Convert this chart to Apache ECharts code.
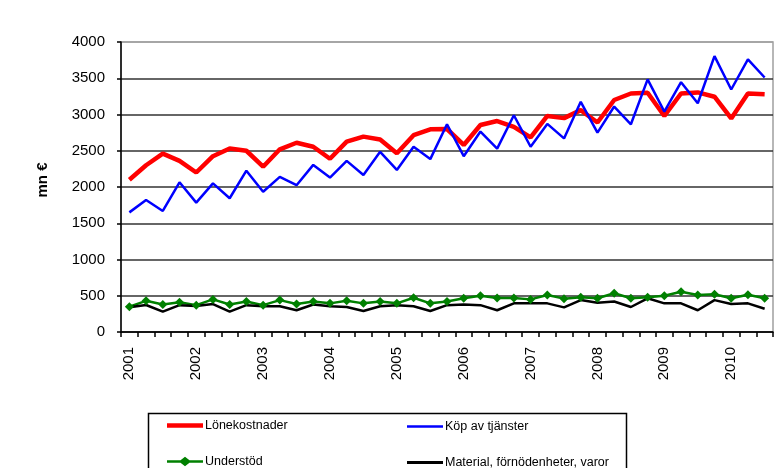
<!DOCTYPE html>
<html><head><meta charset="utf-8">
<script src="https://cdn.jsdelivr.net/npm/echarts@6/dist/echarts.min.js"></script>
<style>html,body{margin:0;padding:0;background:#fff}#c{width:783px;height:468px}</style>
</head><body><div id="c"></div>
<script>
const years = ['2001','2002','2003','2004','2005','2006','2007','2008','2009','2010'];
const categories = [];
for (const y of years) for (let q = 1; q <= 4; q++) categories.push(q === 1 ? y : y + ' Q' + q);
categories.length = 39;
const yTicks = [0, 500, 1000, 1500, 2000, 2500, 3000, 3500, 4000];
const seriesNames = ['Lönekostnader', 'Köp av tjänster', 'Understöd', 'Material, förnödenheter, varor'];
const lonekostnader = [2100,2300,2460,2360,2200,2425,2530,2500,2280,2520,2610,2555,2390,2625,2695,2655,2465,2715,2795,2800,2580,2855,2910,2830,2685,2980,2950,3060,2890,3200,3290,3300,2980,3290,3305,3245,2945,3290,3280];
const kopAvTjanster = [1650,1820,1670,2065,1785,2050,1845,2225,1935,2140,2025,2305,2130,2360,2165,2485,2235,2555,2385,2865,2425,2765,2530,2990,2555,2870,2670,3175,2750,3110,2865,3485,3040,3445,3155,3805,3345,3760,3510];
const understod = [350,430,380,410,370,450,380,420,370,440,385,420,395,430,395,420,395,473,395,420,465,500,470,470,450,510,460,480,465,535,465,480,500,555,510,520,465,515,465];
const material = [340,372,280,370,360,385,280,370,355,355,300,380,355,345,290,355,370,355,290,370,380,370,300,395,395,395,340,440,402,420,345,465,395,395,300,440,385,395,320];

const font = 'Liberation Sans, Arial, sans-serif';
const chart = echarts.init(document.getElementById('c'));
const gridColors = yTicks.map((v, i) => i === yTicks.length - 1 ? '#a0a0a0' : '#333');
function legendAt(name, left, top, icon, h) {
  return {
    data: [{ name: name, icon: icon }], left: left, top: top, orient: 'horizontal',
    itemWidth: 36, itemHeight: h, itemGap: 0, padding: 0,
    textStyle: { fontFamily: font, fontSize: 12.5, color: '#000', padding: [0, 0, 0, -3] },
    selectedMode: false
  };
}
const diamondIcon = 'path://M0,3.6 L13.5,3.6 L18,0 L22.5,3.6 L36,3.6 L36,5.9 L22.5,5.9 L18,9.5 L13.5,5.9 L0,5.9 Z';
chart.setOption({
  animation: false,
  backgroundColor: '#fff',
  grid: { left: 121, right: 10, top: 42, bottom: 136, show: true, borderColor: '#a0a0a0', borderWidth: 1.5, backgroundColor: 'transparent' },
  xAxis: {
    type: 'category', data: categories, boundaryGap: true,
    axisLine: { lineStyle: { color: '#000', width: 1.5 } },
    axisTick: { show: true, interval: 0, length: 5, lineStyle: { color: '#000', width: 1.5 } },
    axisLabel: { interval: 3, rotate: 90, fontFamily: font, fontSize: 15, color: '#000', margin: 15,
      formatter: v => v.slice(0, 4) },
    splitLine: { show: false }
  },
  yAxis: {
    type: 'value', min: 0, max: 4000, interval: 500,
    name: 'mn €', nameLocation: 'middle', nameGap: 71,
    nameTextStyle: { fontFamily: font, fontSize: 15, fontWeight: 'bold', color: '#000', padding: [0, 0, 0, 14] },
    axisLine: { show: true, lineStyle: { color: '#000', width: 1.5 } },
    axisTick: { show: true, length: 4, lineStyle: { color: '#000', width: 1.5 } },
    axisLabel: { fontFamily: font, fontSize: 15, color: '#000', margin: 16, formatter: v => String(v) },
    splitLine: { show: true, lineStyle: { color: gridColors, width: 1.5 } }
  },
  legend: [
    legendAt(seriesNames[0], 167, 419, 'rect', 4.5),
    legendAt(seriesNames[1], 407, 420, 'rect', 2.5),
    legendAt(seriesNames[2], 167, 455, diamondIcon, 9.5),
    legendAt(seriesNames[3], 407, 456, 'rect', 3)
  ],
  graphic: [{
    type: 'rect', left: 146, top: 411, silent: true,
    shape: { width: 478, height: 70 },
    style: { fill: 'none', stroke: '#000', lineWidth: 1.5 }
  }],
  series: [
    { name: seriesNames[0], type: 'line', data: lonekostnader, symbol: 'none', smooth: false,
      lineStyle: { color: '#ff0000', width: 4.5 }, itemStyle: { color: '#ff0000' } },
    { name: seriesNames[1], type: 'line', data: kopAvTjanster, symbol: 'none',
      lineStyle: { color: '#0000ff', width: 2.5 }, itemStyle: { color: '#0000ff' } },
    { name: seriesNames[2], type: 'line', data: understod, symbol: 'diamond', symbolSize: 9,
      lineStyle: { color: '#008000', width: 2.5 }, itemStyle: { color: '#008000' } },
    { name: seriesNames[3], type: 'line', data: material, symbol: 'none',
      lineStyle: { color: '#000000', width: 2.5 }, itemStyle: { color: '#000' } }
  ]
});
</script></body></html>
